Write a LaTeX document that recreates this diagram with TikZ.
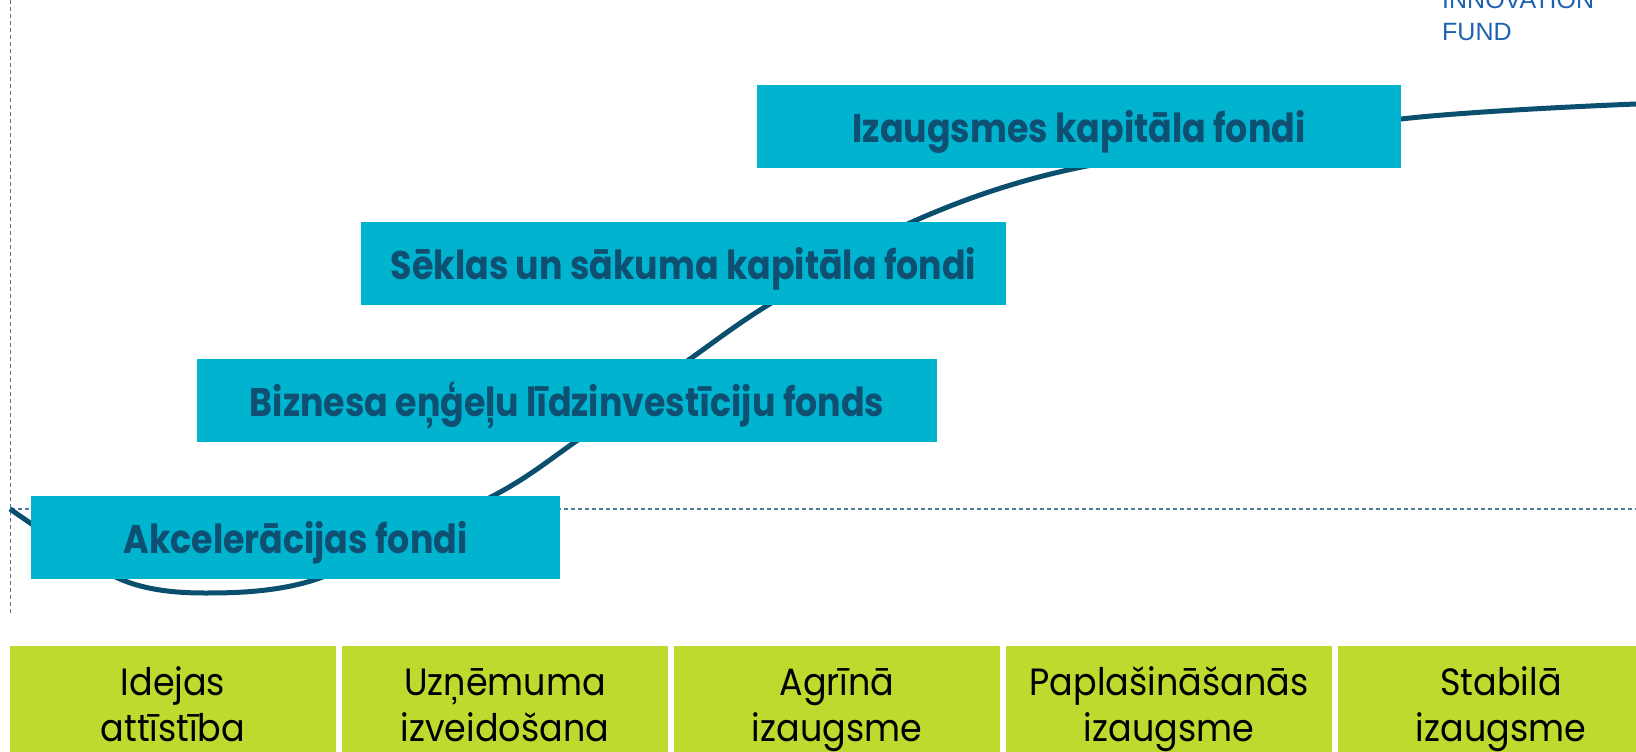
\documentclass[tikz,border=0pt]{standalone}
\usepackage{fontspec}
\setmainfont{Poppins}
\newfontfamily\titlefont[FakeStretch=0.87]{Poppins}
\newfontfamily\stagefont[FakeStretch=0.92]{Poppins}
\newfontfamily\logofont{Liberation Sans}
\definecolor{boxcyan}{HTML}{00B4D0}
\definecolor{textdark}{HTML}{0E4F72}
\definecolor{curvecol}{HTML}{0B4F6E}
\definecolor{stagegreen}{HTML}{C0D92E}
\definecolor{dashcol}{HTML}{4A7A94}
\definecolor{logoblue}{HTML}{1F62B0}
\tikzset{
  fundbox/.style={fill=boxcyan, draw=none, inner sep=0pt, minimum height=83pt,
    font=\titlefont\bfseries\fontsize{40}{46}\selectfont, text=textdark,
    text height=32pt, text depth=0pt},
  stagebox/.style={fill=stagegreen, draw=none, inner sep=0pt, minimum width=326pt, minimum height=106pt},
  stagetext/.style={font=\stagefont\fontsize{38}{46}\selectfont, align=center, anchor=base, text=black, inner sep=0pt},
  guide/.style={draw=dashcol, line width=1.2pt, dash pattern=on 4pt off 3pt},
  scurve/.style={draw=curvecol, line width=5pt}
}
\begin{document}
\begin{tikzpicture}[x=1pt,y=-1pt]
\useasboundingbox (0,0) rectangle (1636,752);
\fill[white] (0,0) rectangle (1636,752);
% guides
\coordinate (vtop) at (10.5,0);
\coordinate (vbot) at (10.5,615);
\coordinate (hl) at (10.5,509);
\coordinate (hr) at (1636,509);
\draw[guide] (vtop) -- (vbot);
\draw[guide] (hl) -- (hr);
% curve
\draw[scurve] plot[smooth, tension=0.5] coordinates {(10,509) (120,579) (205,593) (317,579) (493,496) (575,442) (690,359) (768,305) (912,222) (1077,168) (1401,119) (1636,104)};
% fund boxes
\node[fundbox, minimum width=644pt] (izaugsmes) at (1079,126.5) {Izaugsmes kapitāla fondi};
\node[fundbox, minimum width=645pt] (seklas) at (683.5,263.5) {Sēklas un sākuma kapitāla fondi};
\node[fundbox, minimum width=740pt] (biznesa) at (567,400.5) {Biznesa eņģeļu līdzinvestīciju fonds};
\node[fundbox, minimum width=529pt] (akcel) at (295.5,537.5) {Akcelerācijas fondi};
% stage boxes
\node[stagebox] (s1) at (173,699) {};
\node[stagebox] (s2) at (505,699) {};
\node[stagebox] (s3) at (837,699) {};
\node[stagebox] (s4) at (1169,699) {};
\node[stagebox] (s5) at (1501,699) {};
\node[stagetext] (t1) at (173,741) {Idejas\\attīstība};
\node[stagetext] (t2) at (505,741) {Uzņēmuma\\izveidošana};
\node[stagetext] (t3) at (837,741) {Agrīnā\\izaugsme};
\node[stagetext] (t4) at (1169,741) {Paplašināšanās\\izaugsme};
\node[stagetext] (t5) at (1501,741) {Stabilā\\izaugsme};
% logo text
\node[font=\logofont\fontsize{25}{32}\selectfont, text=logoblue, anchor=base west, inner sep=0pt] (logo) at (1442,41) {FUND};
\node[font=\logofont\fontsize{25}{32}\selectfont, text=logoblue, anchor=base west, inner sep=0pt] (logo2) at (1442,9) {INNOVATION};
\end{tikzpicture}
\end{document}
